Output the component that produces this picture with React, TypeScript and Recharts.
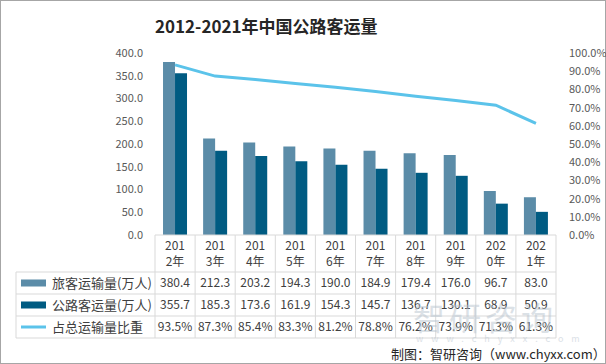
import { Bar, ComposedChart, Line, XAxis, YAxis } from "recharts";

const years = ["2012年", "2013年", "2014年", "2015年", "2016年", "2017年", "2018年", "2019年", "2020年", "2021年"];
const passengers = [380.4, 212.3, 203.2, 194.3, 190.0, 184.9, 179.4, 176.0, 96.7, 83.0];
const roadPassengers = [355.7, 185.3, 173.6, 161.9, 154.3, 145.7, 136.7, 130.1, 68.9, 50.9];
const shares = [93.5, 87.3, 85.4, 83.3, 81.2, 78.8, 76.2, 73.9, 71.3, 61.3];
const leftTicks = [0, 50, 100, 150, 200, 250, 300, 350, 400];
const rightTicks = [0, 10, 20, 30, 40, 50, 60, 70, 80, 90, 100];

const seriesNames = ["旅客运输量(万人)", "公路客运量(万人)", "占总运输量比重"];
const colors = ["#5b8ca8", "#005b82", "#5bc3ea"];

const FONT = "'Noto Sans CJK SC', 'Noto Sans', sans-serif";
const GRID = "#d9d9d9";

const data = years.map((year, i) => ({
  year,
  passengers: passengers[i],
  road: roadPassengers[i],
  share: shares[i],
}));

// row tops relative to the axis line
const headerH = 37;
const rowH = 22;

function TableTick(props: any) {
  const { x, y, payload } = props;
  const i: number = payload.index;
  const half: number = payload.offset || 20;
  const left = x - half;
  const right = x + half;
  const rows = [
    passengers[i].toFixed(1),
    roadPassengers[i].toFixed(1),
    `${shares[i].toFixed(1)}%`,
  ];
  const bottom = y + headerH + rowH * 3;
  const tableLeft = left - 139;
  return (
    <g fontFamily={FONT}>
      <line x1={left} y1={y} x2={right} y2={y} stroke={GRID} />
      <line x1={left} y1={y} x2={left} y2={bottom} stroke={GRID} />
      {i === years.length - 1 && <line x1={right} y1={y} x2={right} y2={bottom} stroke={GRID} />}
      {[0, 1, 2, 3].map((r) => (
        <line key={r} x1={left} y1={y + headerH + rowH * r} x2={right} y2={y + headerH + rowH * r} stroke={GRID} />
      ))}
      <text x={x} y={y + 15} textAnchor="middle" fontSize={12} fill="#404040">
        {payload.value.slice(0, 3)}
      </text>
      <text x={x} y={y + 31} textAnchor="middle" fontSize={12} fill="#404040">
        {payload.value.slice(3)}
      </text>
      {rows.map((v, r) => (
        <text key={r} x={x} y={y + headerH + rowH * r + 15} textAnchor="middle" fontSize={12} fill="#404040">
          {v}
        </text>
      ))}
      {i === 0 && (
        <g>
          <line x1={tableLeft} y1={y + headerH} x2={tableLeft} y2={bottom} stroke={GRID} />
          {[0, 1, 2, 3].map((r) => (
            <line key={r} x1={tableLeft} y1={y + headerH + rowH * r} x2={left} y2={y + headerH + rowH * r} stroke={GRID} />
          ))}
          {seriesNames.map((name, r) => {
            const cy = y + headerH + rowH * r + rowH / 2;
            return (
              <g key={name}>
                {r < 2 ? (
                  <rect x={tableLeft + 5} y={cy - 3.5} width={25} height={7} fill={colors[r]} />
                ) : (
                  <line x1={tableLeft + 5} y1={cy} x2={tableLeft + 30} y2={cy} stroke={colors[r]} strokeWidth={3} />
                )}
                <text x={tableLeft + 36} y={cy + 4.5} fontSize={13} fill="#404040">
                  {name}
                </text>
              </g>
            );
          })}
        </g>
      )}
    </g>
  );
}

export default function App() {
  return (
    <div
      style={{
        position: "absolute",
        left: 0,
        top: 0,
        width: 606,
        height: 364,
        boxSizing: "border-box",
        border: "1px solid #a6a6a6",
        background: "#fff",
        fontFamily: FONT,
      }}
    >
      <div
        style={{
          position: "absolute",
          left: 154,
          top: 12,
          fontSize: 17,
          fontWeight: 700,
          color: "#262626",
          whiteSpace: "nowrap",
        }}
      >
        2012-2021年中国公路客运量
      </div>
      <div style={{ position: "absolute", left: -1, top: -1 }}>
        <ComposedChart
          width={606}
          height={364}
          data={data}
          margin={{ top: 53, right: 3, bottom: 19, left: 95 }}
          barCategoryGap="20%"
          barGap={0}
        >
          <XAxis
            dataKey="year"
            xAxisId="x"
            height={110}
            axisLine={false}
            tickLine={false}
            tickSize={0}
            tickMargin={0}
            interval={0}
            tick={<TableTick />}
          />
          <YAxis
            yAxisId="left"
            domain={[0, 400]}
            ticks={leftTicks}
            width={60}
            axisLine={false}
            tickLine={false}
            tickMargin={6}
            tickFormatter={(v: number) => v.toFixed(1)}
            tick={{ fontSize: 11, fill: "#595959", fontFamily: FONT }}
          />
          <YAxis
            yAxisId="right"
            orientation="right"
            domain={[0, 100]}
            ticks={rightTicks}
            width={47}
            axisLine={false}
            tickLine={false}
            tickMargin={7}
            tickFormatter={(v: number) => `${v.toFixed(1)}%`}
            tick={{ fontSize: 11, fill: "#595959", fontFamily: FONT }}
          />
          <Bar dataKey="passengers" xAxisId="x" yAxisId="left" fill={colors[0]} isAnimationActive={false} />
          <Bar dataKey="road" xAxisId="x" yAxisId="left" fill={colors[1]} isAnimationActive={false} />
          <Line
            dataKey="share"
            xAxisId="x"
            yAxisId="right"
            stroke={colors[2]}
            strokeWidth={3}
            dot={false}
            isAnimationActive={false}
          />
        </ComposedChart>
      </div>
      <div
        style={{
          position: "absolute",
          left: 412,
          top: 292,
          fontSize: 32,
          color: "#b8c4cf",
          opacity: 0.5,
          letterSpacing: 4,
          whiteSpace: "nowrap",
        }}
      >
        智研咨询
      </div>
      <div
        style={{
          position: "absolute",
          left: 415,
          top: 331,
          fontSize: 9,
          color: "#b8c4cf",
          opacity: 0.5,
          letterSpacing: 8,
          whiteSpace: "nowrap",
        }}
      >
        www.chyxx.com
      </div>
      <div
        style={{
          position: "absolute",
          left: 390,
          top: 343,
          fontSize: 13,
          color: "#262626",
          whiteSpace: "nowrap",
        }}
      >
        制图：智研咨询（www.chyxx.com）
      </div>
    </div>
  );
}
